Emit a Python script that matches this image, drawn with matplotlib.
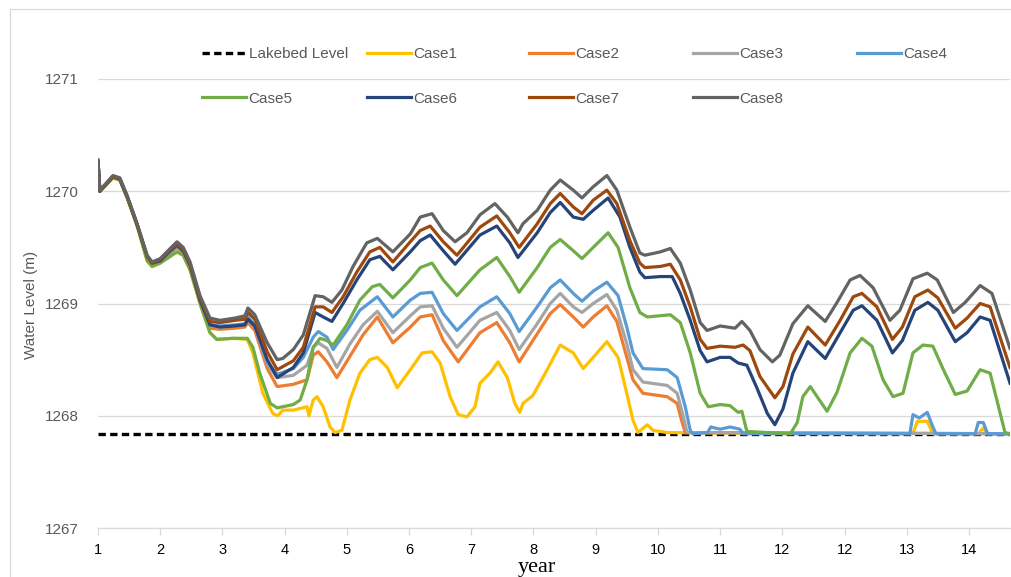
import numpy as np
import matplotlib
matplotlib.use('Agg')
import matplotlib.pyplot as plt
from matplotlib.lines import Line2D

plt.rcParams['font.family'] = 'Liberation Sans'

# x is in axis-tick units (tick i carries tick_labels[i])
tick_labels = ['1', '2', '3', '4', '5', '6', '7', '8', '9', '10', '11', '12', '12', '13', '14']
lakebed_level = 1267.84
x_end = 14.66

case1 = [(0, 1270.25), (0.03, 1270.00), (0.24, 1270.12), (0.35, 1270.10), (0.47, 1269.94), (0.63, 1269.69),
         (0.79, 1269.38), (0.87, 1269.33), (1.00, 1269.36), (1.16, 1269.42), (1.27, 1269.46), (1.37, 1269.43),
         (1.48, 1269.30), (1.64, 1269.00), (1.80, 1268.74), (1.91, 1268.68), (2.17, 1268.69), (2.40, 1268.68),
         (2.49, 1268.56), (2.65, 1268.20), (2.81, 1268.02), (2.89, 1268.00), (2.97, 1268.05), (3.14, 1268.05),
         (3.36, 1268.08), (3.39, 1268.00), (3.46, 1268.14), (3.52, 1268.17), (3.62, 1268.08), (3.73, 1267.90),
         (3.81, 1267.85), (3.92, 1267.87), (4.05, 1268.14), (4.21, 1268.38), (4.37, 1268.50), (4.49, 1268.52),
         (4.65, 1268.43), (4.81, 1268.25), (5.02, 1268.41), (5.21, 1268.56), (5.37, 1268.57), (5.50, 1268.47),
         (5.66, 1268.17), (5.79, 1268.01), (5.93, 1267.99), (6.06, 1268.08), (6.14, 1268.29), (6.30, 1268.38),
         (6.43, 1268.48), (6.58, 1268.34), (6.70, 1268.11), (6.78, 1268.03), (6.83, 1268.11), (6.99, 1268.18),
         (7.22, 1268.41), (7.43, 1268.63), (7.64, 1268.56), (7.80, 1268.42), (7.96, 1268.52), (8.18, 1268.66),
         (8.36, 1268.52), (8.50, 1268.20), (8.60, 1267.96), (8.68, 1267.85), (8.83, 1267.92), (8.92, 1267.87),
         (9.15, 1267.85), (13.10, 1267.84), (13.17, 1267.95), (13.33, 1267.95), (13.42, 1267.84), (14.15, 1267.84),
         (14.23, 1267.89), (14.29, 1267.84), (14.66, 1267.84)]

case2 = [(0, 1270.26), (0.03, 1270.00), (0.24, 1270.13), (0.35, 1270.11), (0.47, 1269.95), (0.63, 1269.70),
         (0.79, 1269.41), (0.87, 1269.35), (1.00, 1269.38), (1.16, 1269.45), (1.27, 1269.50), (1.37, 1269.45),
         (1.48, 1269.32), (1.64, 1269.02), (1.80, 1268.78), (1.96, 1268.77), (2.20, 1268.78), (2.36, 1268.79),
         (2.41, 1268.83), (2.52, 1268.76), (2.72, 1268.42), (2.88, 1268.26), (3.14, 1268.28), (3.36, 1268.32),
         (3.46, 1268.54), (3.54, 1268.57), (3.68, 1268.48), (3.84, 1268.34), (4.05, 1268.53), (4.26, 1268.72),
         (4.49, 1268.88), (4.74, 1268.65), (5.02, 1268.79), (5.18, 1268.88), (5.37, 1268.90), (5.55, 1268.67),
         (5.79, 1268.48), (6.14, 1268.74), (6.41, 1268.83), (6.62, 1268.65), (6.77, 1268.48), (7.06, 1268.73),
         (7.27, 1268.91), (7.43, 1268.99), (7.64, 1268.88), (7.80, 1268.79), (7.96, 1268.88), (8.18, 1268.98),
         (8.34, 1268.84), (8.50, 1268.52), (8.60, 1268.32), (8.76, 1268.20), (9.15, 1268.17), (9.31, 1268.11),
         (9.39, 1267.94), (9.44, 1267.85), (14.66, 1267.84)]

case3 = [(0, 1270.26), (0.03, 1270.00), (0.24, 1270.13), (0.35, 1270.11), (0.47, 1269.95), (0.63, 1269.70),
         (0.79, 1269.41), (0.87, 1269.35), (1.00, 1269.38), (1.16, 1269.46), (1.27, 1269.51), (1.37, 1269.46),
         (1.48, 1269.33), (1.64, 1269.03), (1.80, 1268.80), (1.96, 1268.79), (2.20, 1268.80), (2.36, 1268.81),
         (2.41, 1268.86), (2.52, 1268.79), (2.72, 1268.46), (2.88, 1268.34), (3.14, 1268.36), (3.36, 1268.45),
         (3.46, 1268.61), (3.54, 1268.65), (3.68, 1268.60), (3.84, 1268.43), (4.05, 1268.64), (4.26, 1268.81),
         (4.49, 1268.93), (4.74, 1268.74), (5.02, 1268.89), (5.18, 1268.97), (5.37, 1268.98), (5.55, 1268.78),
         (5.77, 1268.61), (6.14, 1268.85), (6.41, 1268.92), (6.62, 1268.76), (6.77, 1268.59), (7.06, 1268.82),
         (7.27, 1269.00), (7.43, 1269.09), (7.64, 1268.97), (7.78, 1268.92), (7.96, 1269.00), (8.18, 1269.08),
         (8.34, 1268.94), (8.50, 1268.64), (8.60, 1268.41), (8.76, 1268.30), (9.15, 1268.27), (9.31, 1268.20),
         (9.41, 1267.99), (9.47, 1267.85), (14.66, 1267.84)]

case4 = [(0, 1270.26), (0.03, 1270.00), (0.24, 1270.13), (0.35, 1270.11), (0.47, 1269.95), (0.63, 1269.70),
         (0.79, 1269.41), (0.87, 1269.35), (1.00, 1269.38), (1.16, 1269.46), (1.27, 1269.51), (1.37, 1269.46),
         (1.48, 1269.33), (1.64, 1269.03), (1.80, 1268.81), (1.96, 1268.80), (2.20, 1268.81), (2.36, 1268.82),
         (2.41, 1268.88), (2.52, 1268.81), (2.72, 1268.48), (2.88, 1268.37), (3.14, 1268.42), (3.30, 1268.52),
         (3.46, 1268.70), (3.54, 1268.75), (3.68, 1268.70), (3.78, 1268.59), (4.00, 1268.76), (4.21, 1268.94),
         (4.49, 1269.06), (4.74, 1268.88), (5.02, 1269.03), (5.18, 1269.09), (5.37, 1269.10), (5.55, 1268.91),
         (5.77, 1268.76), (6.14, 1268.97), (6.41, 1269.06), (6.62, 1268.91), (6.77, 1268.75), (7.06, 1268.97),
         (7.27, 1269.14), (7.43, 1269.21), (7.64, 1269.09), (7.78, 1269.02), (7.96, 1269.11), (8.18, 1269.19),
         (8.36, 1269.07), (8.50, 1268.79), (8.60, 1268.56), (8.76, 1268.42), (9.15, 1268.41), (9.31, 1268.34),
         (9.44, 1268.08), (9.52, 1267.87), (9.56, 1267.84), (9.80, 1267.85), (9.85, 1267.90), (10.00, 1267.88),
         (10.16, 1267.90), (10.32, 1267.88), (10.37, 1267.84), (13.05, 1267.84), (13.10, 1268.01), (13.20, 1267.98),
         (13.33, 1268.03), (13.42, 1267.90), (13.47, 1267.84), (14.10, 1267.84), (14.15, 1267.94), (14.23, 1267.94),
         (14.30, 1267.84), (14.66, 1267.84)]

case5 = [(0, 1270.25), (0.03, 1270.00), (0.24, 1270.12), (0.35, 1270.10), (0.47, 1269.94), (0.63, 1269.69),
         (0.79, 1269.38), (0.87, 1269.33), (1.00, 1269.36), (1.16, 1269.42), (1.27, 1269.46), (1.37, 1269.43),
         (1.48, 1269.30), (1.64, 1269.00), (1.80, 1268.74), (1.91, 1268.68), (2.17, 1268.69), (2.40, 1268.69),
         (2.49, 1268.61), (2.60, 1268.38), (2.77, 1268.11), (2.88, 1268.07), (3.14, 1268.10), (3.25, 1268.14),
         (3.36, 1268.32), (3.46, 1268.61), (3.57, 1268.69), (3.68, 1268.67), (3.78, 1268.63), (4.00, 1268.81),
         (4.21, 1269.03), (4.41, 1269.15), (4.53, 1269.17), (4.74, 1269.05), (5.02, 1269.21), (5.18, 1269.32),
         (5.37, 1269.36), (5.55, 1269.21), (5.77, 1269.07), (6.14, 1269.30), (6.41, 1269.41), (6.62, 1269.24),
         (6.77, 1269.10), (7.06, 1269.32), (7.27, 1269.50), (7.43, 1269.57), (7.64, 1269.47), (7.78, 1269.40),
         (7.96, 1269.50), (8.20, 1269.63), (8.36, 1269.50), (8.55, 1269.14), (8.71, 1268.92), (8.83, 1268.88),
         (9.20, 1268.90), (9.36, 1268.83), (9.52, 1268.56), (9.68, 1268.20), (9.81, 1268.08), (10.00, 1268.10),
         (10.16, 1268.09), (10.29, 1268.03), (10.35, 1268.04), (10.43, 1267.86), (11.13, 1267.84), (11.24, 1267.94),
         (11.33, 1268.17), (11.45, 1268.26), (11.56, 1268.17), (11.72, 1268.04), (11.88, 1268.21), (12.09, 1268.56),
         (12.28, 1268.69), (12.44, 1268.62), (12.62, 1268.32), (12.78, 1268.17), (12.94, 1268.20), (13.10, 1268.56),
         (13.26, 1268.63), (13.42, 1268.62), (13.59, 1268.41), (13.78, 1268.19), (13.97, 1268.22), (14.18, 1268.41),
         (14.34, 1268.38), (14.58, 1267.85), (14.66, 1267.84)]

case6 = [(0, 1270.26), (0.03, 1270.00), (0.24, 1270.13), (0.35, 1270.11), (0.47, 1269.95), (0.63, 1269.70),
         (0.79, 1269.42), (0.87, 1269.36), (1.00, 1269.38), (1.16, 1269.47), (1.27, 1269.52), (1.37, 1269.47),
         (1.48, 1269.34), (1.64, 1269.03), (1.80, 1268.81), (1.96, 1268.79), (2.20, 1268.80), (2.36, 1268.81),
         (2.41, 1268.86), (2.52, 1268.80), (2.72, 1268.50), (2.88, 1268.34), (3.14, 1268.43), (3.30, 1268.56),
         (3.49, 1268.92), (3.62, 1268.88), (3.76, 1268.84), (3.94, 1269.00), (4.16, 1269.21), (4.37, 1269.39),
         (4.53, 1269.42), (4.74, 1269.30), (5.02, 1269.46), (5.18, 1269.56), (5.34, 1269.61), (5.55, 1269.47),
         (5.74, 1269.35), (6.14, 1269.61), (6.41, 1269.69), (6.62, 1269.54), (6.75, 1269.41), (7.06, 1269.63),
         (7.27, 1269.81), (7.43, 1269.90), (7.64, 1269.77), (7.80, 1269.75), (7.96, 1269.83), (8.20, 1269.94),
         (8.39, 1269.77), (8.55, 1269.50), (8.71, 1269.28), (8.79, 1269.23), (9.04, 1269.24), (9.23, 1269.24),
         (9.36, 1269.09), (9.52, 1268.85), (9.68, 1268.58), (9.79, 1268.48), (10.00, 1268.52), (10.16, 1268.52),
         (10.29, 1268.47), (10.43, 1268.45), (10.59, 1268.25), (10.76, 1268.02), (10.88, 1267.92), (11.01, 1268.06),
         (11.17, 1268.38), (11.41, 1268.66), (11.69, 1268.51), (11.93, 1268.74), (12.14, 1268.94), (12.28, 1268.98),
         (12.52, 1268.85), (12.77, 1268.56), (12.93, 1268.67), (13.13, 1268.94), (13.34, 1269.01), (13.50, 1268.94),
         (13.78, 1268.66), (13.97, 1268.74), (14.18, 1268.88), (14.34, 1268.85), (14.66, 1268.29)]

case7 = [(0, 1270.27), (0.03, 1270.00), (0.24, 1270.13), (0.35, 1270.11), (0.47, 1269.95), (0.63, 1269.70),
         (0.79, 1269.42), (0.87, 1269.36), (1.00, 1269.39), (1.16, 1269.48), (1.27, 1269.53), (1.37, 1269.48),
         (1.48, 1269.35), (1.64, 1269.05), (1.80, 1268.84), (1.96, 1268.83), (2.20, 1268.85), (2.36, 1268.86),
         (2.41, 1268.92), (2.52, 1268.86), (2.72, 1268.57), (2.88, 1268.41), (3.14, 1268.49), (3.30, 1268.61),
         (3.49, 1268.97), (3.62, 1268.97), (3.76, 1268.92), (3.94, 1269.06), (4.16, 1269.28), (4.37, 1269.46),
         (4.53, 1269.50), (4.74, 1269.37), (5.02, 1269.55), (5.18, 1269.65), (5.34, 1269.69), (5.55, 1269.55),
         (5.77, 1269.43), (6.14, 1269.68), (6.41, 1269.78), (6.62, 1269.63), (6.77, 1269.50), (7.06, 1269.71),
         (7.27, 1269.89), (7.43, 1269.98), (7.64, 1269.86), (7.78, 1269.80), (7.96, 1269.92), (8.18, 1270.01),
         (8.34, 1269.89), (8.55, 1269.56), (8.71, 1269.36), (8.79, 1269.32), (9.04, 1269.33), (9.20, 1269.35),
         (9.36, 1269.21), (9.52, 1268.97), (9.68, 1268.68), (9.79, 1268.60), (10.00, 1268.62), (10.24, 1268.61),
         (10.37, 1268.63), (10.48, 1268.58), (10.64, 1268.35), (10.88, 1268.16), (11.01, 1268.26), (11.17, 1268.55),
         (11.41, 1268.79), (11.69, 1268.63), (11.93, 1268.85), (12.14, 1269.06), (12.28, 1269.09), (12.52, 1268.97),
         (12.77, 1268.68), (12.93, 1268.79), (13.13, 1269.06), (13.34, 1269.12), (13.50, 1269.05), (13.78, 1268.78),
         (13.97, 1268.87), (14.18, 1269.00), (14.34, 1268.97), (14.66, 1268.43)]

case8 = [(0, 1270.28), (0.03, 1270.01), (0.24, 1270.14), (0.35, 1270.12), (0.47, 1269.96), (0.63, 1269.71),
         (0.79, 1269.43), (0.87, 1269.37), (1.00, 1269.40), (1.16, 1269.49), (1.27, 1269.55), (1.37, 1269.50),
         (1.48, 1269.37), (1.64, 1269.07), (1.80, 1268.87), (1.96, 1268.85), (2.20, 1268.87), (2.36, 1268.89),
         (2.41, 1268.96), (2.52, 1268.90), (2.72, 1268.65), (2.88, 1268.50), (2.97, 1268.51), (3.14, 1268.59),
         (3.30, 1268.72), (3.49, 1269.07), (3.62, 1269.06), (3.76, 1269.01), (3.92, 1269.12), (4.10, 1269.33),
         (4.32, 1269.54), (4.49, 1269.58), (4.74, 1269.46), (5.02, 1269.62), (5.18, 1269.77), (5.37, 1269.80),
         (5.55, 1269.65), (5.74, 1269.55), (5.93, 1269.63), (6.14, 1269.79), (6.38, 1269.89), (6.58, 1269.77),
         (6.75, 1269.63), (6.83, 1269.71), (7.06, 1269.83), (7.27, 1270.01), (7.43, 1270.10), (7.64, 1270.01),
         (7.78, 1269.94), (7.96, 1270.04), (8.18, 1270.14), (8.34, 1270.01), (8.55, 1269.68), (8.71, 1269.45),
         (8.79, 1269.43), (9.04, 1269.46), (9.20, 1269.49), (9.36, 1269.36), (9.52, 1269.12), (9.68, 1268.83),
         (9.79, 1268.76), (10.00, 1268.80), (10.24, 1268.78), (10.35, 1268.84), (10.48, 1268.76), (10.64, 1268.59),
         (10.84, 1268.48), (10.96, 1268.54), (11.17, 1268.82), (11.41, 1268.98), (11.69, 1268.84), (11.88, 1269.01),
         (12.09, 1269.21), (12.25, 1269.25), (12.46, 1269.14), (12.73, 1268.85), (12.89, 1268.94), (13.10, 1269.22),
         (13.33, 1269.27), (13.49, 1269.21), (13.75, 1268.92), (13.94, 1269.01), (14.18, 1269.16), (14.37, 1269.09),
         (14.66, 1268.60)]

series = [('Case1', case1, '#FFC000'), ('Case2', case2, '#ED7D31'), ('Case3', case3, '#A5A5A5'),
          ('Case4', case4, '#5B9BD5'), ('Case5', case5, '#70AD47'), ('Case6', case6, '#264478'),
          ('Case7', case7, '#9E480E'), ('Case8', case8, '#636363')]

W, H = 1012, 577
fig = plt.figure(figsize=(W / 100, H / 100), dpi=100)
ax = fig.add_axes([98 / W, 1 - 528 / H, 912 / W, 449 / H])

lines = {}
lines['Lakebed Level'], = ax.plot([0, x_end], [lakebed_level, lakebed_level], color='black', lw=2.4,
                                  dashes=(2.2, 1.3), solid_capstyle='butt', label='Lakebed Level')
for name, pts, col in series:
    t, lv = np.array(pts).T
    lines[name], = ax.plot(t, lv, color=col, lw=2.3, solid_joinstyle='round', label=name)

ax.set_xlim(0, x_end)
ax.set_ylim(1267, 1271)
ax.set_yticks([1267, 1268, 1269, 1270, 1271])
ax.set_xticks(range(len(tick_labels)))
ax.set_xticklabels(tick_labels)
ax.grid(axis='y', color='#d9d9d9', lw=0.9)
ax.set_axisbelow(True)
for s in ['top', 'right', 'left']:
    ax.spines[s].set_visible(False)
ax.spines['bottom'].set_color('#d9d9d9')
ax.spines['bottom'].set_linewidth(0.9)
ax.tick_params(axis='y', length=0, pad=14, labelsize=11, labelcolor='#595959')
ax.tick_params(axis='x', length=5, width=0.9, color='#d9d9d9', pad=5.5, labelsize=10.5, labelcolor='black')

fig.text(31 / W, 1 - 305 / H, 'Water Level (m)', rotation=90, ha='center', va='center',
         fontsize=11, color='#595959')
fig.text(537 / W, 1 - 572 / H, 'year', ha='center', va='baseline', fontsize=16,
         family='Liberation Serif', color='black')

# legend laid out in Excel-style equal columns
cols = [(['Lakebed Level', 'Case5'], 202), (['Case1', 'Case6'], 367), (['Case2', 'Case7'], 529),
        (['Case3', 'Case8'], 693), (['Case4'], 857)]
for names, xpx in cols:
    fig.legend([lines[n] for n in names], names, loc='upper left',
               bbox_to_anchor=(xpx / W, 1 - 47 / H), bbox_transform=fig.transFigure,
               frameon=False, fontsize=11, handlelength=2.85, handletextpad=0.2,
               labelspacing=2.0, borderpad=0, borderaxespad=0, labelcolor='#595959')

# chart-area border (left and top edges visible in the crop)
fig.add_artist(Line2D([10 / W, 10 / W], [0, 1 - 9 / H], transform=fig.transFigure, color='#d9d9d9', lw=0.9))
fig.add_artist(Line2D([10 / W, 1], [1 - 9 / H, 1 - 9 / H], transform=fig.transFigure, color='#d9d9d9', lw=0.9))

fig.savefig('out.png', dpi=100)
